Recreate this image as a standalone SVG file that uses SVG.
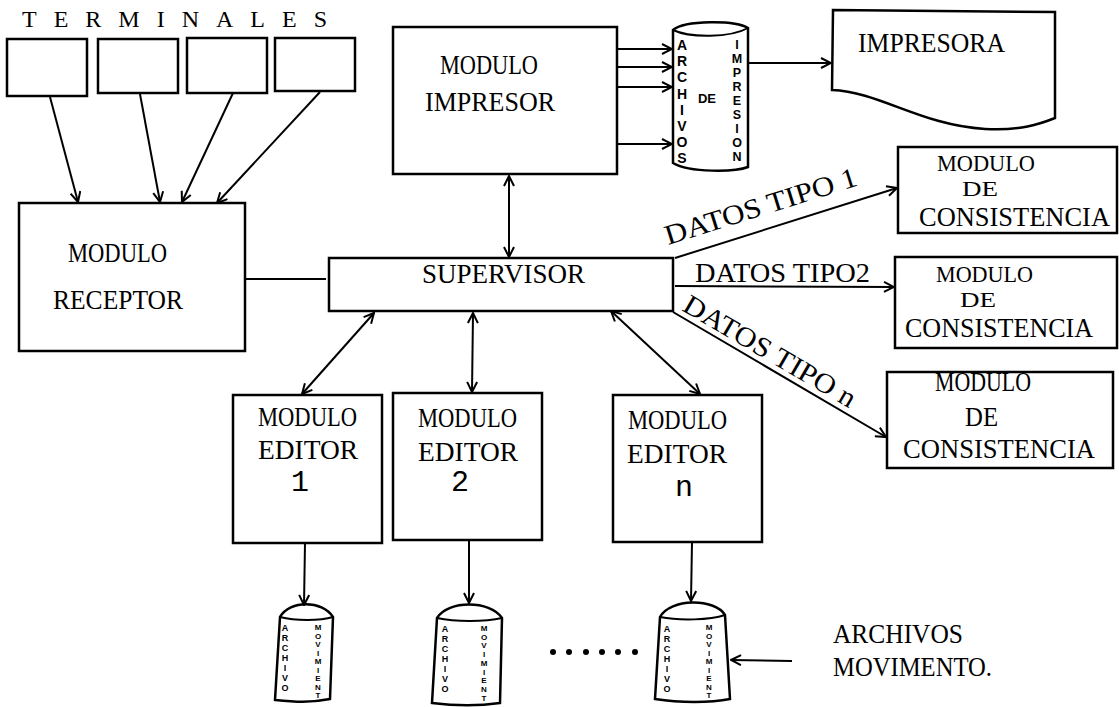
<svg xmlns="http://www.w3.org/2000/svg" width="1119" height="707" viewBox="0 0 1119 707">
<defs>
<style>
.box{fill:none;stroke:#000;stroke-width:2.5}
.ln{fill:none;stroke:#000;stroke-width:2}
.t{font-family:"Liberation Serif",serif;font-size:28px;fill:#000}
.s{font-size:23px}
.d{font-size:22px}
.m{font-family:"Liberation Mono",monospace;font-size:30px;fill:#000}
.cl{font-family:"Liberation Sans",sans-serif;font-weight:bold;font-size:14px;fill:#000;text-anchor:middle}
.cs{font-family:"Liberation Sans",sans-serif;font-weight:bold;font-size:9px;fill:#000;text-anchor:middle}
.cm{font-size:8px}
</style>
<marker id="ah" viewBox="0 0 12 12" refX="11" refY="6" markerWidth="12" markerHeight="12" markerUnits="userSpaceOnUse" orient="auto-start-reverse">
<path d="M1,1 L11,6 L1,11" fill="none" stroke="#000" stroke-width="2"/>
</marker>
</defs>
<rect width="1119" height="707" fill="#fff"/>

<g id="terminales">
<text class="t" x="22" y="27" textLength="305" lengthAdjust="spacing" style="font-size:24px">TERMINALES</text>
<rect class="box" x="7" y="39" width="80" height="57"/>
<rect class="box" x="98" y="39" width="80" height="54"/>
<rect class="box" x="187" y="38" width="80" height="55"/>
<rect class="box" x="275" y="38" width="80" height="53"/>
</g>

<g id="modulo-receptor">
<rect class="box" x="19" y="203" width="226" height="148"/>
<text class="t"><tspan x="68" y="262" textLength="99" lengthAdjust="spacingAndGlyphs">MODULO</tspan><tspan x="53" y="309" textLength="130" lengthAdjust="spacingAndGlyphs">RECEPTOR</tspan></text>
</g>

<g id="modulo-impresor">
<rect class="box" x="393" y="27" width="224" height="147"/>
<text class="t"><tspan x="440" y="74" textLength="98" lengthAdjust="spacingAndGlyphs">MODULO</tspan><tspan x="425" y="111" textLength="130" lengthAdjust="spacingAndGlyphs">IMPRESOR</tspan></text>
</g>

<g id="archivos-impresion">
<path class="box" d="M673,30 C685,20 735,20 748,28 L748,167 C735,172 690,173 673,163 Z"/>
<path class="ln" d="M673,30 C690,38 730,38 748,28"/>
<text class="cl"><tspan x="682" y="50">A</tspan><tspan x="682" dy="16.2">R</tspan><tspan x="682" dy="16.2">C</tspan><tspan x="682" dy="16.2">H</tspan><tspan x="682" dy="16.2">I</tspan><tspan x="682" dy="16.2">V</tspan><tspan x="682" dy="16.2">O</tspan><tspan x="682" dy="16.2">S</tspan></text>
<text class="cl" x="707" y="103" style="font-size:13px">DE</text>
<text class="cl" style="font-size:12.5px"><tspan x="737" y="49">I</tspan><tspan x="737" dy="14">M</tspan><tspan x="737" dy="14">P</tspan><tspan x="737" dy="14">R</tspan><tspan x="737" dy="14">E</tspan><tspan x="737" dy="14">S</tspan><tspan x="737" dy="14">I</tspan><tspan x="737" dy="14">O</tspan><tspan x="737" dy="14">N</tspan></text>
</g>

<g id="impresora">
<path class="box" d="M833,10 L1055,12 L1055,118 C1040,124 1020,131 985,129 C920,125 880,92 832,90 Z"/>
<text class="t" x="858" y="52" textLength="147" lengthAdjust="spacingAndGlyphs">IMPRESORA</text>
</g>

<g id="supervisor">
<rect class="box" x="329" y="258" width="344" height="53"/>
<text class="t" x="422" y="283" textLength="163" lengthAdjust="spacingAndGlyphs">SUPERVISOR</text>
</g>

<g id="consistencia-1">
<rect class="box" x="898" y="147" width="219" height="86"/>
<text class="t"><tspan class="s" x="937" y="171" textLength="98" lengthAdjust="spacingAndGlyphs">MODULO</tspan><tspan class="d" x="962" y="196" textLength="36" lengthAdjust="spacingAndGlyphs">DE</tspan><tspan x="919" y="226" textLength="191" lengthAdjust="spacingAndGlyphs">CONSISTENCIA</tspan></text>
</g>

<g id="consistencia-2">
<rect class="box" x="895" y="257" width="222" height="91"/>
<text class="t"><tspan class="s" x="936" y="282" textLength="97" lengthAdjust="spacingAndGlyphs">MODULO</tspan><tspan class="d" x="960" y="307" textLength="36" lengthAdjust="spacingAndGlyphs">DE</tspan><tspan x="905" y="337" textLength="188" lengthAdjust="spacingAndGlyphs">CONSISTENCIA</tspan></text>
</g>

<g id="consistencia-n">
<rect class="box" x="887" y="372" width="226" height="96"/>
<text class="t"><tspan x="935" y="391" textLength="96" lengthAdjust="spacingAndGlyphs">MODULO</tspan><tspan x="965" y="426" textLength="33" lengthAdjust="spacingAndGlyphs">DE</tspan><tspan x="903" y="458" textLength="192" lengthAdjust="spacingAndGlyphs">CONSISTENCIA</tspan></text>
</g>

<g id="editor-1">
<rect class="box" x="233" y="395" width="149" height="148"/>
<text class="t"><tspan x="258" y="426" textLength="99" lengthAdjust="spacingAndGlyphs">MODULO</tspan><tspan x="258" y="459" textLength="100" lengthAdjust="spacingAndGlyphs">EDITOR</tspan></text>
<text class="m" x="300" y="491" text-anchor="middle">1</text>
</g>

<g id="editor-2">
<rect class="box" x="393" y="393" width="149" height="147"/>
<text class="t"><tspan x="418" y="427" textLength="99" lengthAdjust="spacingAndGlyphs">MODULO</tspan><tspan x="418" y="461" textLength="100" lengthAdjust="spacingAndGlyphs">EDITOR</tspan></text>
<text class="m" x="460" y="491" text-anchor="middle">2</text>
</g>

<g id="editor-n">
<rect class="box" x="613" y="395" width="149" height="147"/>
<text class="t"><tspan x="628" y="429" textLength="99" lengthAdjust="spacingAndGlyphs">MODULO</tspan><tspan x="627" y="463" textLength="100" lengthAdjust="spacingAndGlyphs">EDITOR</tspan></text>
<text class="m" x="684" y="496" text-anchor="middle">n</text>
</g>

<g id="archivo-movimiento-1">
<path class="box" d="M280,617 C290,600 322,600 333,617 L330,699 C310,703 295,702 275,700 Z"/>
<path class="ln" d="M280,617 C295,621 320,621 333,617"/>
<text class="cs"><tspan x="285" y="631">A</tspan><tspan x="285" dy="10">R</tspan><tspan x="285" dy="10">C</tspan><tspan x="285" dy="10">H</tspan><tspan x="285" dy="10">I</tspan><tspan x="285" dy="10">V</tspan><tspan x="285" dy="10">O</tspan></text>
<text class="cs cm"><tspan x="318" y="630">M</tspan><tspan x="318" dy="8.5">O</tspan><tspan x="318" dy="8.5">V</tspan><tspan x="318" dy="8.5">I</tspan><tspan x="318" dy="8.5">M</tspan><tspan x="318" dy="8.5">I</tspan><tspan x="318" dy="8.5">E</tspan><tspan x="318" dy="8.5">N</tspan><tspan x="318" dy="8.5">T</tspan></text>
</g>

<g id="archivo-movimiento-2">
<path class="box" d="M437,618 C448,600 490,600 502,618 L500,703 C480,706 455,706 432,703 Z"/>
<path class="ln" d="M437,618 C455,622 485,622 502,618"/>
<text class="cs"><tspan x="445" y="632">A</tspan><tspan x="445" dy="10">R</tspan><tspan x="445" dy="10">C</tspan><tspan x="445" dy="10">H</tspan><tspan x="445" dy="10">I</tspan><tspan x="445" dy="10">V</tspan><tspan x="445" dy="10">O</tspan></text>
<text class="cs cm"><tspan x="484" y="631">M</tspan><tspan x="484" dy="8.7">O</tspan><tspan x="484" dy="8.7">V</tspan><tspan x="484" dy="8.7">I</tspan><tspan x="484" dy="8.7">M</tspan><tspan x="484" dy="8.7">I</tspan><tspan x="484" dy="8.7">E</tspan><tspan x="484" dy="8.7">N</tspan><tspan x="484" dy="8.7">T</tspan></text>
</g>

<g id="archivo-movimiento-n">
<path class="box" d="M660,617 C670,598 715,598 725,615 L730,699 C710,703 680,703 655,699 Z"/>
<path class="ln" d="M660,617 C680,621 710,620 725,615"/>
<text class="cs"><tspan x="667" y="632">A</tspan><tspan x="667" dy="10">R</tspan><tspan x="667" dy="10">C</tspan><tspan x="667" dy="10">H</tspan><tspan x="667" dy="10">I</tspan><tspan x="667" dy="10">V</tspan><tspan x="667" dy="10">O</tspan></text>
<text class="cs cm"><tspan x="709" y="630">M</tspan><tspan x="709" dy="8.5">O</tspan><tspan x="709" dy="8.5">V</tspan><tspan x="709" dy="8.5">I</tspan><tspan x="709" dy="8.5">M</tspan><tspan x="709" dy="8.5">I</tspan><tspan x="709" dy="8.5">E</tspan><tspan x="709" dy="8.5">N</tspan><tspan x="709" dy="8.5">T</tspan></text>
</g>

<g id="dots">
<circle cx="553" cy="652" r="3"/><circle cx="569" cy="652" r="3"/><circle cx="586" cy="652" r="3"/><circle cx="602" cy="652" r="3"/><circle cx="618" cy="652" r="3"/><circle cx="635" cy="652" r="3"/>
</g>

<g id="archivos-movimento-label">
<text class="t"><tspan x="833" y="643" textLength="130" lengthAdjust="spacingAndGlyphs">ARCHIVOS</tspan><tspan x="833" y="676" textLength="159" lengthAdjust="spacingAndGlyphs">MOVIMENTO.</tspan></text>
</g>

<g id="connectors">
<line class="ln" x1="50" y1="97" x2="78" y2="202" marker-end="url(#ah)"/>
<line class="ln" x1="140" y1="94" x2="160" y2="202" marker-end="url(#ah)"/>
<line class="ln" x1="233" y1="93" x2="182" y2="202" marker-end="url(#ah)"/>
<line class="ln" x1="320" y1="92" x2="217" y2="203" marker-end="url(#ah)"/>
<line class="ln" x1="245" y1="279" x2="326" y2="279"/>
<line class="ln" x1="509" y1="176" x2="509" y2="257" marker-start="url(#ah)" marker-end="url(#ah)"/>
<line class="ln" x1="617" y1="49" x2="672" y2="49" marker-end="url(#ah)"/>
<line class="ln" x1="617" y1="67" x2="672" y2="67" marker-end="url(#ah)"/>
<line class="ln" x1="617" y1="87" x2="672" y2="87" marker-end="url(#ah)"/>
<line class="ln" x1="617" y1="144" x2="672" y2="144" marker-end="url(#ah)"/>
<line class="ln" x1="748" y1="63" x2="831" y2="63" marker-end="url(#ah)"/>
<line class="ln" x1="675" y1="258" x2="897" y2="188" marker-end="url(#ah)"/>
<text class="t" transform="translate(668,245) rotate(-17.4)" textLength="200" lengthAdjust="spacingAndGlyphs">DATOS TIPO 1</text>
<line class="ln" x1="675" y1="286" x2="894" y2="287" marker-end="url(#ah)"/>
<text class="t" x="695" y="282" textLength="175" lengthAdjust="spacingAndGlyphs">DATOS TIPO2</text>
<line class="ln" x1="673" y1="312" x2="886" y2="437" marker-end="url(#ah)"/>
<text class="t" transform="translate(681,310) rotate(30.3)" textLength="195" lengthAdjust="spacingAndGlyphs">DATOS TIPO n</text>
<line class="ln" x1="374" y1="313" x2="302" y2="394" marker-start="url(#ah)" marker-end="url(#ah)"/>
<line class="ln" x1="473" y1="313" x2="472" y2="392" marker-start="url(#ah)" marker-end="url(#ah)"/>
<line class="ln" x1="611" y1="311" x2="700" y2="394" marker-start="url(#ah)" marker-end="url(#ah)"/>
<line class="ln" x1="305" y1="543" x2="304" y2="605" marker-end="url(#ah)"/>
<line class="ln" x1="469" y1="540" x2="469" y2="603" marker-end="url(#ah)"/>
<line class="ln" x1="692" y1="542" x2="691" y2="601" marker-end="url(#ah)"/>
<line class="ln" x1="792" y1="661" x2="731" y2="660" marker-end="url(#ah)"/>
</g>
</svg>
